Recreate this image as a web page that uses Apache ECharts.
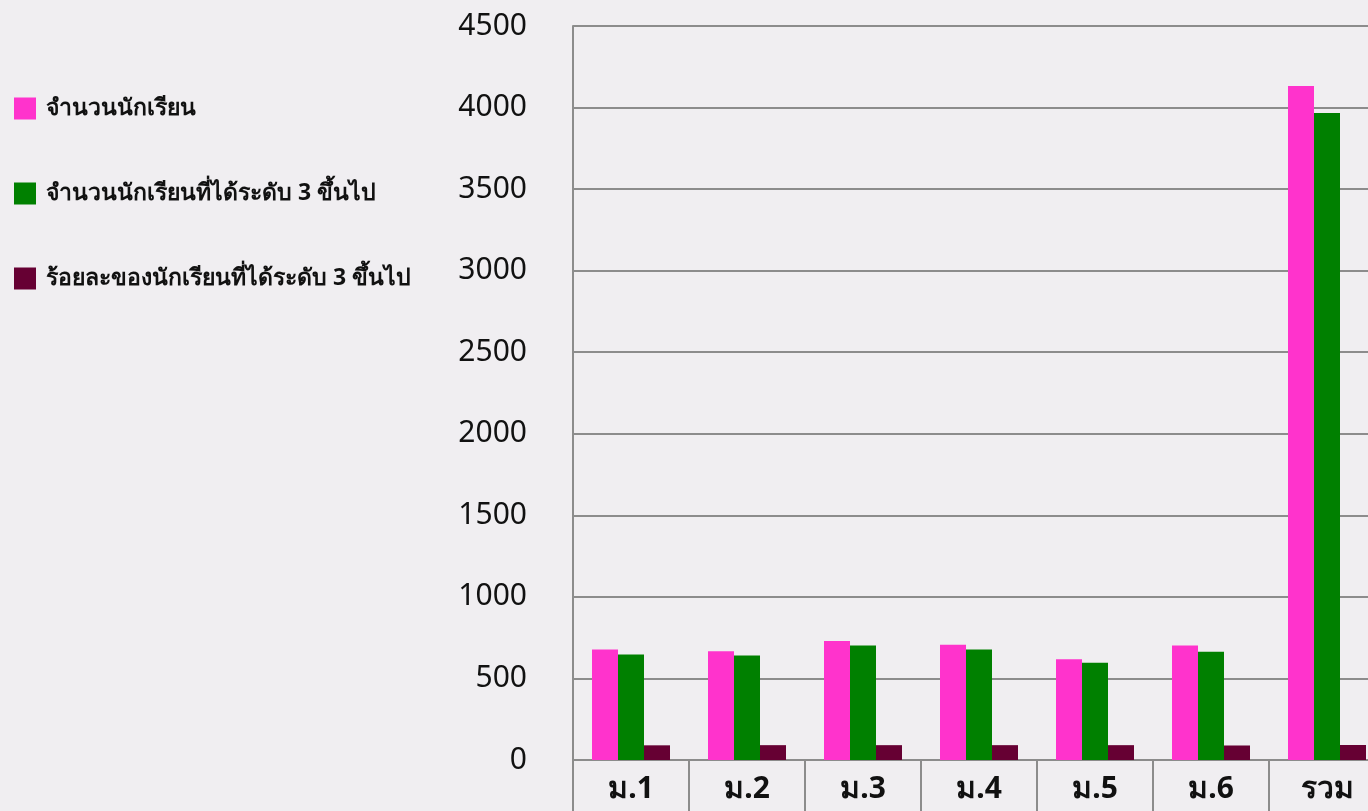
<!DOCTYPE html>
<html>
<head>
<meta charset="utf-8">
<script src="https://cdn.jsdelivr.net/npm/echarts@6/dist/echarts.min.js"></script>
<style>
  html, body { margin: 0; padding: 0; background: #f0eef1; }
  #chart { width: 1368px; height: 811px; }
</style>
</head>
<body>
<div id="chart"></div>
<script>
var categories = ["ม.1", "ม.2", "ม.3", "ม.4", "ม.5", "ม.6", "รวม"];
var students = [678, 666, 729, 707, 617, 702, 4132];
var passed = [647, 641, 702, 678, 596, 663, 3966];
var percent = [90, 91, 91, 91, 91, 89, 92];
var yTicks = [0, 500, 1000, 1500, 2000, 2500, 3000, 3500, 4000, 4500];

var font = "'Noto Sans', 'DejaVu Sans', sans-serif";
var myChart = echarts.init(document.getElementById("chart"));
var option = {
  backgroundColor: "#f0eef1",
  animation: false,
  legend: {
    orient: "vertical",
    left: 14,
    top: 97,
    padding: 0,
    itemWidth: 22,
    itemHeight: 22,
    itemGap: 62,
    icon: "rect",
    textStyle: {
      fontFamily: font,
      fontSize: 23,
      fontWeight: "bold",
      color: "#111",
      lineHeight: 22,
      padding: [0, 0, 0, 5],
    },
    data: ["จำนวนนักเรียน", "จำนวนนักเรียนที่ได้ระดับ 3 ขึ้นไป", "ร้อยละของนักเรียนที่ได้ระดับ 3 ขึ้นไป"],
  },
  grid: { left: 573, width: 812, top: 26, bottom: 51, outerBoundsMode: "none" },
  xAxis: {
    type: "category",
    data: categories,
    axisLine: { lineStyle: { color: "#8c8c8c", width: 2 } },
    axisTick: { show: true, length: 55, lineStyle: { color: "#8c8c8c", width: 2 } },
    axisLabel: { fontFamily: font, fontSize: 30, fontWeight: "bold", color: "#111", margin: 14 },
  },
  yAxis: {
    type: "value",
    min: yTicks[0],
    max: yTicks[yTicks.length - 1],
    interval: 500,
    axisLine: { show: true, lineStyle: { color: "#8c8c8c", width: 2 } },
    axisTick: { show: false },
    splitLine: { lineStyle: { color: "#8c8c8c", width: 2 } },
    axisLabel: {
      fontFamily: font,
      fontSize: 30,
      color: "#111",
      margin: 46,
      formatter: function (v) {
        return String(v);
      },
    },
  },
  series: [
    {
      name: "จำนวนนักเรียน",
      type: "bar",
      data: students,
      color: "#ff33cc",
      barWidth: 26,
      barGap: "0%",
    },
    {
      name: "จำนวนนักเรียนที่ได้ระดับ 3 ขึ้นไป",
      type: "bar",
      data: passed,
      color: "#008000",
      barWidth: 26,
      barGap: "0%",
    },
    {
      name: "ร้อยละของนักเรียนที่ได้ระดับ 3 ขึ้นไป",
      type: "bar",
      data: percent,
      color: "#660033",
      barWidth: 26,
      barGap: "0%",
    },
  ],
};
myChart.setOption(option);
</script>
</body>
</html>
